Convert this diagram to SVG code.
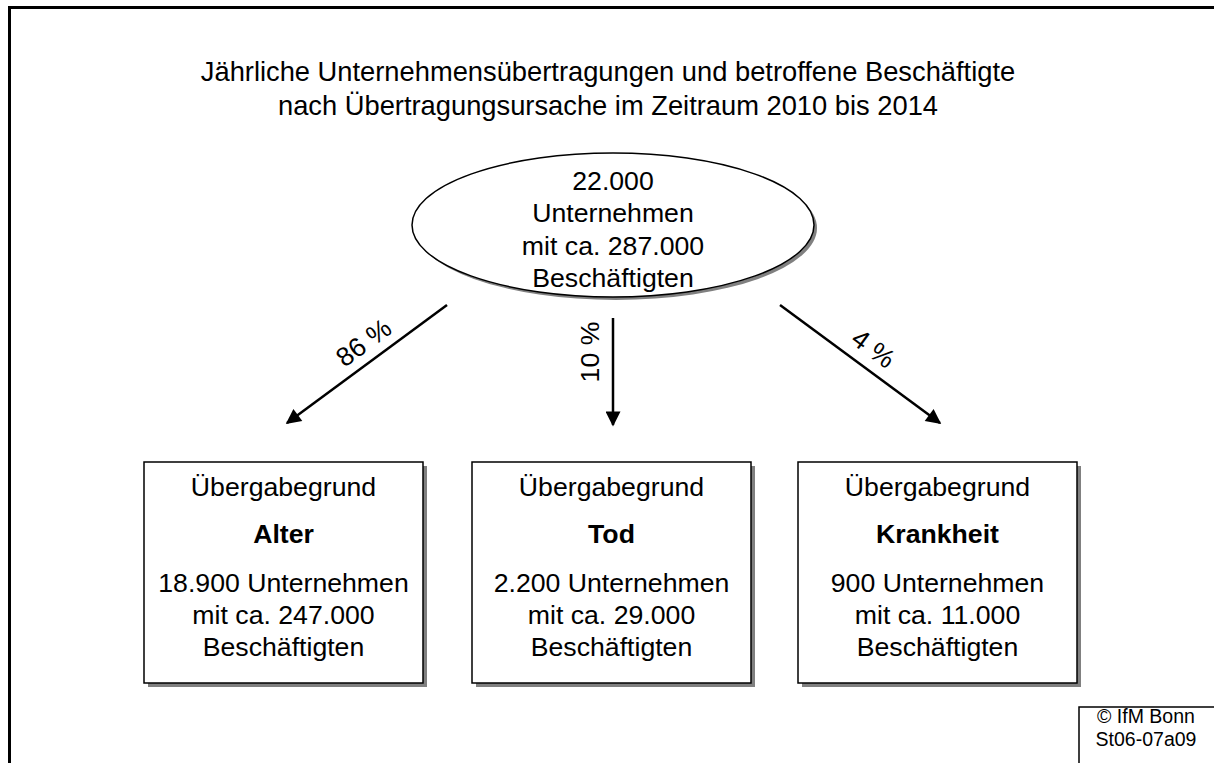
<svg xmlns="http://www.w3.org/2000/svg" width="1214" height="763" viewBox="0 0 1214 763">
<defs>
<style>
.t{font-family:"Liberation Sans",Arial,sans-serif;font-size:26.67px;fill:#000;text-anchor:middle}
.tt{font-size:27.3px}
.b{font-weight:bold}
.sm{font-family:"Liberation Sans",Arial,sans-serif;font-size:19.5px;fill:#000;text-anchor:middle}
.box{fill:#fff;stroke:#000;stroke-width:1.5}
.sh{fill:#808080;stroke:none}
.ln{stroke:#000;stroke-width:2.5;fill:none}
</style>
<marker id="ah" viewBox="0 0 10 10" refX="9" refY="5" markerWidth="7" markerHeight="6" markerUnits="strokeWidth" orient="auto">
<path d="M0,0 L10,5 L0,10 z" fill="#000"/>
</marker>
</defs>
<rect width="1214" height="763" fill="#fff"/>
<g id="frame">
<path d="M9.5,763 L9.5,7.5 L1214,7.5" fill="none" stroke="#000" stroke-width="3"/>
</g>
<g id="title">
<text class="t tt" x="608" y="81">Jährliche Unternehmensübertragungen und betroffene Beschäftigte</text>
<text class="t tt" x="608" y="115">nach Übertragungsursache im Zeitraum 2010 bis 2014</text>
</g>
<g id="root">
<ellipse class="sh" cx="616" cy="228" rx="201" ry="72"/>
<ellipse class="box" cx="613" cy="225" rx="201" ry="72"/>
<text class="t" x="613" y="190">22.000</text>
<text class="t" x="613" y="222">Unternehmen</text>
<text class="t" x="613" y="255">mit ca. 287.000</text>
<text class="t" x="613" y="287">Beschäftigten</text>
</g>
<g id="connectors">
<line class="ln" x1="447" y1="305" x2="287" y2="423" marker-end="url(#ah)"/>
<line class="ln" x1="613" y1="318" x2="613" y2="425" marker-end="url(#ah)"/>
<line class="ln" x1="780" y1="305" x2="940" y2="423" marker-end="url(#ah)"/>
<text class="t" transform="translate(369,350) rotate(-36.4)">86 %</text>
<text class="t" transform="translate(599,352) rotate(-90)">10 %</text>
<text class="t" transform="translate(868,356) rotate(36.4)">4 %</text>
</g>
<g id="alter">
<rect class="sh" x="148" y="466" width="279" height="221"/>
<rect class="box" x="144" y="462" width="279" height="221"/>
<text class="t" x="283.5" y="496">Übergabegrund</text>
<text class="t b" x="283.5" y="543">Alter</text>
<text class="t" x="283.5" y="592">18.900 Unternehmen</text>
<text class="t" x="283.5" y="624">mit ca. 247.000</text>
<text class="t" x="283.5" y="656">Beschäftigten</text>
</g>
<g id="tod">
<rect class="sh" x="476" y="466" width="279" height="221"/>
<rect class="box" x="472" y="462" width="279" height="221"/>
<text class="t" x="611.5" y="496">Übergabegrund</text>
<text class="t b" x="611.5" y="543">Tod</text>
<text class="t" x="611.5" y="592">2.200 Unternehmen</text>
<text class="t" x="611.5" y="624">mit ca. 29.000</text>
<text class="t" x="611.5" y="656">Beschäftigten</text>
</g>
<g id="krankheit">
<rect class="sh" x="802" y="466" width="279" height="221"/>
<rect class="box" x="798" y="462" width="279" height="221"/>
<text class="t" x="937.5" y="496">Übergabegrund</text>
<text class="t b" x="937.5" y="543">Krankheit</text>
<text class="t" x="937.5" y="592">900 Unternehmen</text>
<text class="t" x="937.5" y="624">mit ca. 11.000</text>
<text class="t" x="937.5" y="656">Beschäftigten</text>
</g>
<g id="copyright">
<rect x="1079" y="707" width="140" height="70" fill="#fff" stroke="#000" stroke-width="1.5"/>
<text class="sm" x="1146" y="723">© IfM Bonn</text>
<text class="sm" x="1146" y="746">St06-07a09</text>
</g>
</svg>
